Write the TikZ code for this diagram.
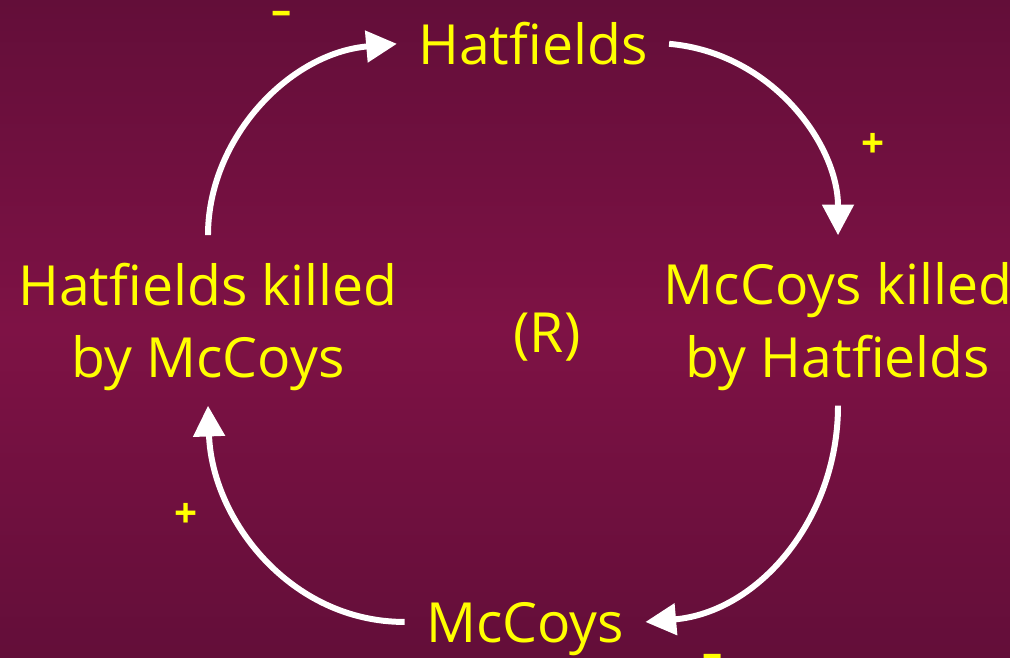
\documentclass[tikz,border=0pt]{standalone}
\usepackage{fontspec}
\setmainfont{Open Sans}
\usetikzlibrary{arrows.meta}
\definecolor{bgedge}{RGB}{99,14,57}
\definecolor{bgmid}{RGB}{126,18,69}
\definecolor{termyellow}{RGB}{255,255,0}

\begin{document}
\begin{tikzpicture}[x=0.02cm, y=0.02cm,
    term/.style={text=termyellow, font=\fontsize{31.5}{41.5}\selectfont, align=center, inner xsep=12pt, inner ysep=8pt},
    sign/.style={text=termyellow, font=\fontsize{23}{23}\selectfont\bfseries, inner sep=0pt, anchor=base},
    link/.style={draw=white, line width=3.4pt, -{Triangle[length=17.5pt, width=17.5pt]}}]
    \useasboundingbox (0,0) rectangle (1010,-658);
    \clip (0,0) rectangle (1010,-658);
    \shade[top color=bgedge, bottom color=bgedge, middle color=bgmid] (0,0) rectangle (1010,-658);

    % variables of the loop
    \node[term, anchor=base, text depth=0pt, inner ysep=0pt] (hat) at (533,-65) {Hatfields};
    \node[term] (mk) at (838,-327) {McCoys killed\\by Hatfields};
    \node[term, anchor=base, text depth=0pt, inner ysep=0pt] (mc) at (525,-642) {McCoys};
    \node[term] (hk) at (208,-327) {Hatfields killed\\by McCoys};
    \node[term, anchor=base, inner sep=0pt] (loop) at (547,-352) {(R)};

    % causal links
    \draw[link, shorten <=7.5pt] (hk.north) to[out=90, in=185] (hat.west);
    \draw[link, shorten >=7.5pt] (hat.east) to[out=-5, in=90] (mk.north);
    \draw[link] (mk.south) to[out=-90, in=5] (mc.east);
    \draw[link] (mc.west) to[out=180, in=-88] (hk.south);

    % polarities
    \node[sign] (sgn1) at (282,-25) {–};
    \node[sign] (sgn2) at (873,-158) {+};
    \node[sign] (sgn3) at (713,-667) {–};
    \node[sign] (sgn4) at (186,-527) {+};
\end{tikzpicture}
\end{document}
